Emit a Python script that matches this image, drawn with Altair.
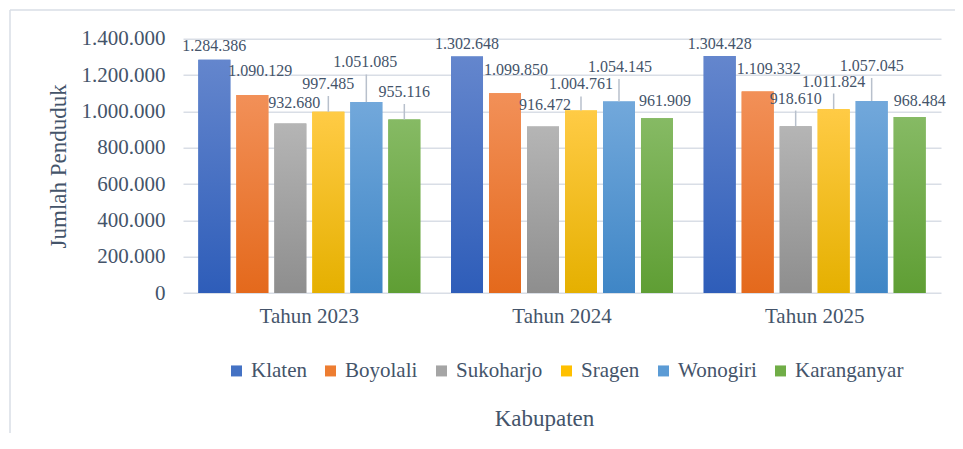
import altair as alt
import pandas as pd

# ---------------- data ----------------
years = ["Tahun 2023", "Tahun 2024", "Tahun 2025"]
regencies = ["Klaten", "Boyolali", "Sukoharjo", "Sragen", "Wonogiri", "Karanganyar"]
pop_2023 = [1284386, 1090129, 932680, 997485, 1051085, 955116]
pop_2024 = [1302648, 1099850, 916472, 1004761, 1054145, 961909]
pop_2025 = [1304428, 1109332, 918610, 1011824, 1057045, 968484]
y_ticks = [0, 200000, 400000, 600000, 800000, 1000000, 1200000, 1400000]

# ---------------- style ----------------
base_colors = ["#4472C4", "#ED7D31", "#A5A5A5", "#FFC000", "#5B9BD5", "#70AD47"]
grad_top = ["#6486CD", "#F29058", "#B5B5B5", "#FFCB45", "#72A8DB", "#86BA64"]
grad_bottom = ["#2E5DB9", "#E4691C", "#8E8E8E", "#E5B000", "#3F86C6", "#5F9E34"]
label_lift = [[13.7, 24, 20.6, 27.8, 39.6, 27.5],
              [12, 23.5, 21.5, 26, 34.5, 17.3],
              [12, 22, 27.6, 27.7, 35, 16]]
label_dx = [[0, 8, 4, 0, -1, 0],
            [0, 11, 2, 0, 1, 8],
            [0, 11, 0, 0, 0, 10]]
FONT = "Liberation Serif"
TXT = "#44546A"
GRID = "#D9DEE6"
W, H = 758, 254.3
YMAX = 1400000
U = YMAX / H  # data units per pixel

rows = []
for yi, (yr, vals) in enumerate(zip(years, [pop_2023, pop_2024, pop_2025])):
    for ri, (r, v) in enumerate(zip(regencies, vals)):
        lift = label_lift[yi][ri]
        rows.append({
            "Tahun": yr, "Kabupaten": r, "value": v,
            "label": f"{v:,}".replace(",", "."),
            "label_y": v + lift * U,
            "lead_y2": v + (lift - 12) * U,
            "leader": lift >= 26,
            "dx": label_dx[yi][ri],
        })
df = pd.DataFrame(rows)

x_axis = alt.Axis(title="Kabupaten", labelAngle=0, labelFont=FONT, labelFontSize=21,
                  labelColor=TXT, labelPadding=12, ticks=False, domain=False, grid=False,
                  titleFont=FONT, titleFontSize=23, titleFontWeight="normal", titleColor=TXT,
                  titleX=361, titleY=125, titleBaseline="middle", titleAlign="center")
y_axis = alt.Axis(values=y_ticks,
                  labelExpr="replace(replace(format(datum.value, ','), ',', '.'), ',', '.')",
                  labelFont=FONT, labelFontSize=21, labelColor=TXT, labelPadding=18,
                  labelOverlap=False, labelBaseline="middle",
                  ticks=False, domain=False, grid=True, gridColor=GRID, gridWidth=1.5,
                  title="Jumlah Penduduk", titleFont=FONT, titleFontSize=23,
                  titleFontWeight="normal", titleColor=TXT, titleX=-125, titleY=H / 2,
                  titleAngle=270, titleBaseline="middle", titleAlign="center")

x_enc = alt.X("Tahun:N", sort=years, scale=alt.Scale(paddingInner=0, paddingOuter=0), axis=x_axis)
xo_enc = alt.XOffset("Kabupaten:N", sort=regencies,
                     scale=alt.Scale(domain=regencies, paddingInner=0.158, paddingOuter=0.404))
y_scale = alt.Scale(domain=[0, YMAX], nice=False)
y_enc = alt.Y("value:Q", scale=y_scale, axis=y_axis)

base = alt.Chart(df)

bars = base.mark_bar().encode(
    x=x_enc, xOffset=xo_enc, y=y_enc,
    color=alt.Color("Kabupaten:N", sort=regencies,
                    scale=alt.Scale(domain=regencies, range=base_colors),
                    legend=alt.Legend(orient="none", legendX=43, legendY=321.5, direction="horizontal",
                                      title=None, symbolType="square", symbolSize=121,
                                      symbolStrokeWidth=0, labelFont=FONT, labelFontSize=21,
                                      labelColor=TXT, labelOffset=4, columnPadding=13, columns=6)),
)

grad_layers = []
for r, t, b in zip(regencies, grad_top, grad_bottom):
    grad_layers.append(
        base.transform_filter(alt.datum.Kabupaten == r).mark_bar(
            fill=alt.Gradient(gradient="linear", x1=0, x2=0, y1=0, y2=1,
                              stops=[alt.GradientStop(color=t, offset=0),
                                     alt.GradientStop(color=b, offset=1)])
        ).encode(x=x_enc, xOffset=xo_enc, y=y_enc)
    )

leaders = base.transform_filter(alt.datum.leader).mark_rule(color="#B8C0CC", strokeWidth=1.5).encode(
    x=x_enc, xOffset=xo_enc, y=y_enc, y2="lead_y2:Q")

text_layers = []
for d in sorted(df["dx"].unique()):
    text_layers.append(
        base.transform_filter(alt.datum.dx == int(d)).mark_text(
            dx=int(d), font=FONT, fontSize=16, color=TXT, baseline="middle", align="center"
        ).encode(x=x_enc, xOffset=xo_enc, y=alt.Y("label_y:Q", scale=y_scale, axis=y_axis),
                 text="label:N")
    )

frame_df = pd.DataFrame({"k": [0]})
frame_left = alt.Chart(frame_df).mark_rule(color=GRID, strokeWidth=1.5).encode(
    x=alt.value(-173), y=alt.value(-28.7), y2=alt.value(H + 150))
frame_top = alt.Chart(frame_df).mark_rule(color=GRID, strokeWidth=1.5).encode(
    x=alt.value(-173), x2=alt.value(W + 20), y=alt.value(-28.7))

chart = alt.layer(bars, *grad_layers, leaders, *text_layers, frame_left, frame_top).properties(
    width=W, height=H,
    autosize=alt.AutoSizeParams(type="none"),
    padding={"left": 175, "top": 30.7, "right": 14, "bottom": 140},
    background="white",
).configure(font=FONT).configure_view(strokeWidth=0).configure_axis(
    labelFont=FONT, titleFont=FONT
).configure_legend(labelFont=FONT)

chart.save("out.html", embed_options={"renderer": "svg", "actions": False})
